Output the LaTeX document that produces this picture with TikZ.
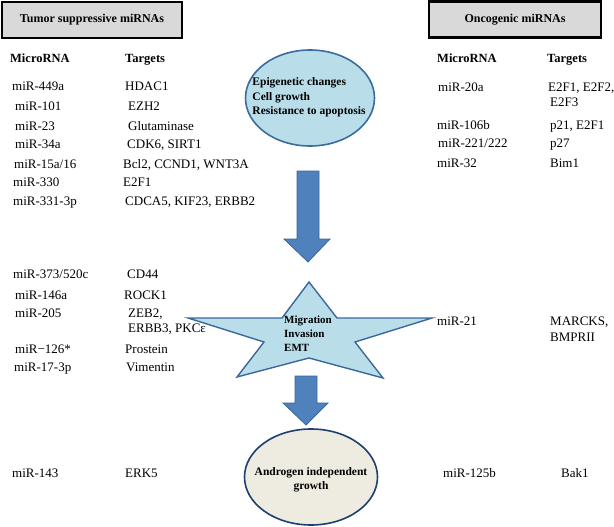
\documentclass[tikz,border=0pt]{standalone}
\usepackage{fontspec}
\setmainfont{Liberation Serif}
\usetikzlibrary{shapes.geometric}
\definecolor{hdrgray}{HTML}{D9D9D9}
\definecolor{ltblue}{HTML}{B9DEEA}
\definecolor{ellborder}{HTML}{3A6C9E}
\definecolor{arrowfill}{HTML}{4F81BD}
\definecolor{arrowborder}{HTML}{3A679C}
\definecolor{beige}{HTML}{EEECE1}
\definecolor{darkblue}{HTML}{1F3F6E}
\tikzset{
  txt/.style={anchor=base west, inner sep=0pt, font=\fontsize{13}{15}\selectfont},
  colhead/.style={anchor=base west, inner sep=0pt, font=\fontsize{12.5}{15}\selectfont\bfseries},
  hdrbox/.style={draw=black, line width=2.6pt, fill=hdrgray, minimum height=36pt, inner sep=0pt, font=\fontsize{12}{14}\selectfont\bfseries},
  bluearrow/.style={fill=arrowfill, draw=arrowborder, line width=0.8pt, line join=miter},
  btxt/.style={inner sep=0pt, font=\fontsize{11.5}{14.5}\selectfont\bfseries}
}
\begin{document}
\begin{tikzpicture}[x=1pt,y=-1pt]
\useasboundingbox (0,0) rectangle (614,527);
% header boxes
\node[hdrbox, minimum width=180pt] (hts) at (92,20) {Tumor suppressive miRNAs};
\node[hdrbox, minimum width=172pt] (hon) at (515,19.5) {Oncogenic miRNAs};
% column headings
\node[colhead] (lmh) at (10,62.5) {MicroRNA};
\node[colhead] (lth) at (125,62.5) {Targets};
\node[colhead] (rmh) at (437,62.5) {MicroRNA};
\node[colhead] (rth) at (547,62.5) {Targets};
% left upper rows
\node[txt] (m1) at (12,90.5) {miR-449a};   \node[txt] (t1) at (125,90.5) {HDAC1};
\node[txt] (m2) at (15,110.5) {miR-101};   \node[txt] (t2) at (128,110.5) {EZH2};
\node[txt] (m3) at (15,130.5) {miR-23};    \node[txt] (t3) at (128,130.5) {Glutaminase};
\node[txt] (m4) at (15,148.5) {miR-34a};   \node[txt] (t4) at (127,148.5) {CDK6, SIRT1};
\node[txt] (m5) at (14,168.5) {miR-15a/16};\node[txt] (t5) at (123,168.5) {Bcl2, CCND1, WNT3A};
\node[txt] (m6) at (13,186.5) {miR-330};   \node[txt] (t6) at (123,186.5) {E2F1};
\node[txt] (m7) at (13,205.5) {miR-331-3p};\node[txt] (t7) at (125,205.5) {CDCA5, KIF23, ERBB2};
% right upper rows
\node[txt] (r1) at (438,91.5) {miR-20a};    \node[txt] (s1) at (548,91.5) {E2F1, E2F2,};
\node[txt] (s1b) at (550,106.5) {E2F3};
\node[txt] (r2) at (437,129.5) {miR-106b};  \node[txt] (s2) at (550,129.5) {p21, E2F1};
\node[txt] (r3) at (438,147.5) {miR-221/222};\node[txt] (s3) at (550,147.5) {p27};
\node[txt] (r4) at (437,167.5) {miR-32};    \node[txt] (s4) at (550,167.5) {Bim1};
% left middle rows
\node[txt] (m8) at (13,278.5) {miR-373/520c}; \node[txt] (t8) at (127,278.5) {CD44};
\node[txt] (m9) at (15,299.5) {miR-146a};     \node[txt] (t9) at (124,299.5) {ROCK1};
\node[txt] (m10) at (15,317.5) {miR-205};     \node[txt] (t10) at (128,317.5) {ZEB2,};
\node[txt] (t10b) at (128,332.5) {ERBB3, PKCε};
\node[txt] (m11) at (15,353.5) {miR−126*};    \node[txt] (t11) at (125,353.5) {Prostein};
\node[txt] (m12) at (14,371.5) {miR-17-3p};   \node[txt] (t12) at (126,371.5) {Vimentin};
% right middle
\node[txt] (r5) at (437,325.5) {miR-21}; \node[txt] (s5) at (550,325.5) {MARCKS,};
\node[txt] (s5b) at (550,341.5) {BMPRII};
% bottom rows
\node[txt] (m13) at (12,477.5) {miR-143}; \node[txt] (t13) at (125,477.5) {ERK5};
\node[txt] (r6) at (443,477.5) {miR-125b}; \node[txt] (s6) at (561,477.5) {Bak1};
% top ellipse
\node[ellipse, draw=ellborder, line width=1.6pt, fill=ltblue, minimum width=129pt, minimum height=96pt, inner sep=0pt] (e1) at (310,98) {};
\node[btxt, align=left] (e1t) at (309,97.5) {Epigenetic changes\\Cell growth\\Resistance to apoptosis};
% arrow 1
\draw[bluearrow] (297,171) -- (319,171) -- (319,239) -- (330,239) -- (308,262) -- (284,239) -- (297,239) -- cycle;
% star
\draw[fill=ltblue, draw=arrowborder, line width=1.4pt, line join=miter]
  (309,282) -- (337,318) -- (432,318) -- (355,342) -- (383,378) -- (309,358)
  -- (237,377) -- (264,342) -- (188,318) -- (282,318) -- cycle;
\node[btxt, align=left, anchor=north west, font=\fontsize{11}{14}\selectfont\bfseries] (st) at (284,316) {Migration\\Invasion\\EMT};
% arrow 2
\draw[bluearrow] (295,376) -- (317,376) -- (317,403) -- (328,403) -- (306,425) -- (283,403) -- (295,403) -- cycle;
% bottom ellipse
\node[ellipse, draw=darkblue, line width=1.6pt, fill=beige, minimum width=133pt, minimum height=96pt, inner sep=0pt] (e2) at (311,477) {};
\node[btxt, align=center] (e2t) at (311,480) {Androgen independent\\growth};
\end{tikzpicture}
\end{document}
